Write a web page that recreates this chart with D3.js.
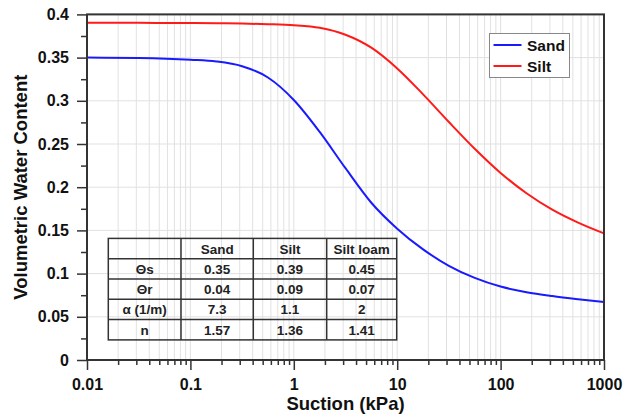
<!DOCTYPE html>
<html>
<head>
<meta charset="utf-8">
<script src="https://cdn.jsdelivr.net/npm/d3@7"></script>
<style>
  body { margin: 0; background: #fff; }
  svg { display: block; font-family: "Liberation Sans", Arial, sans-serif; font-weight: bold; }
</style>
</head>
<body>
<svg id="chart" width="634" height="418"></svg>
<script>
// values, every quarter decade of suction (kPa)
const suction = [0.01, 0.0316, 0.1, 0.178, 0.316, 0.562, 1, 1.78, 3.16, 5.62, 10, 17.8, 31.6, 56.2, 100, 178, 316, 562, 1000];
const sandTheta = [0.350, 0.3495, 0.3475, 0.3455, 0.340, 0.327, 0.301, 0.264, 0.222, 0.182, 0.152, 0.128, 0.109, 0.095, 0.085, 0.0785, 0.074, 0.0703, 0.067];
const siltTheta = [0.3904, 0.3902, 0.3900, 0.3898, 0.3894, 0.3887, 0.3875, 0.3845, 0.3765, 0.3615, 0.3375, 0.3075, 0.2755, 0.2445, 0.2165, 0.193, 0.174, 0.159, 0.1465];

const seriesNames = ["Sand", "Silt"];
const seriesColors = ["#1a1aff", "#ff1a1a"];

const xTickLabels = ["0.01", "0.1", "1", "10", "100", "1000"];
const yTickLabels = ["0", "0.05", "0.1", "0.15", "0.2", "0.25", "0.3", "0.35", "0.4"];

const tableHeader = ["", "Sand", "Silt", "Silt loam"];
const tableRowLabels = ["Θs", "Θr", "α (1/m)", "n"];
const tableValues = [
  ["0.35", "0.39", "0.45"],
  ["0.04", "0.09", "0.07"],
  ["7.3", "1.1", "2"],
  ["1.57", "1.36", "1.41"]
];

const margin = { top: 14.4, right: 30, bottom: 58, left: 87 };
const width = 634 - margin.left - margin.right;
const height = 418 - margin.top - margin.bottom;

const svg = d3.select('#chart');
const g = svg.append('g').attr('transform', `translate(${margin.left},${margin.top})`);

const x = d3.scaleLog().domain([0.01, 1000]).range([0, width]);
const y = d3.scaleLinear().domain([0, 0.4]).range([height, 0]);

const xMajor = xTickLabels.map(Number);
const xMinor = x.ticks().filter(t => !xMajor.some(m => Math.abs(m - t) < 1e-9));
const yMajor = yTickLabels.map(Number);
const yMinor = d3.range(0.025, 0.4, 0.05);

// grid
g.append('g')
  .selectAll('line')
  .data(x.ticks())
  .enter().append('line')
  .attr('x1', d => x(d)).attr('x2', d => x(d))
  .attr('y1', 0).attr('y2', height)
  .attr('stroke', '#e1e1e1')
  .attr('stroke-width', 1);

g.append('g')
  .selectAll('line')
  .data(yMajor)
  .enter().append('line')
  .attr('x1', 0).attr('x2', width)
  .attr('y1', d => y(d)).attr('y2', d => y(d))
  .attr('stroke', '#e1e1e1')
  .attr('stroke-width', 1);

// parameter table (behind the curves, no fill)
const tblX = 21.3, tblY = 224, colW = [72.7, 72.3, 73.4, 70], rowH = 20.3;
const colX = [0];
colW.forEach((w, i) => colX.push(colX[i] + w));
const tbl = g.append('g').attr('transform', `translate(${tblX},${tblY})`);
const tblRows = [tableHeader].concat(tableRowLabels.map((l, i) => [l].concat(tableValues[i])));

tbl.append('rect')
  .attr('width', colX[4]).attr('height', rowH * tblRows.length)
  .attr('fill', 'none').attr('stroke', '#333').attr('stroke-width', 1.5);
tbl.selectAll('.vline')
  .data(colX.slice(1, 4))
  .enter().append('line')
  .attr('x1', d => d).attr('x2', d => d)
  .attr('y1', 0).attr('y2', rowH * tblRows.length)
  .attr('stroke', '#333').attr('stroke-width', 1.5);
tbl.selectAll('.hline')
  .data(d3.range(1, tblRows.length))
  .enter().append('line')
  .attr('x1', 0).attr('x2', colX[4])
  .attr('y1', d => d * rowH).attr('y2', d => d * rowH)
  .attr('stroke', '#333').attr('stroke-width', 1.5);

tblRows.forEach((row, r) => {
  row.forEach((cell, c) => {
    tbl.append('text')
      .attr('x', colX[c] + colW[c] / 2)
      .attr('y', r * rowH + rowH / 2 + 5)
      .attr('text-anchor', 'middle')
      .style('font-size', '13.5px')
      .attr('fill', '#222')
      .text(cell);
  });
});

// curves
const line = d3.line()
  .x(d => x(d[0]))
  .y(d => y(d[1]))
  .curve(d3.curveMonotoneX);

const series = [
  d3.zip(suction, sandTheta),
  d3.zip(suction, siltTheta)
];

g.selectAll('.curve')
  .data(series)
  .enter().append('path')
  .attr('class', 'curve')
  .attr('d', line)
  .attr('fill', 'none')
  .attr('stroke', (d, i) => seriesColors[i])
  .attr('stroke-width', 2);

// axes
g.append('g')
  .attr('transform', `translate(0,${height})`)
  .call(d3.axisBottom(x).tickValues(xMajor).tickSize(10).tickPadding(9)
    .tickFormat((d, i) => xTickLabels[i]));
g.append('g')
  .attr('transform', `translate(0,${height})`)
  .call(d3.axisBottom(x).tickValues(xMinor).tickSize(5).tickFormat(''));

g.append('g')
  .call(d3.axisLeft(y).tickValues(yMajor).tickSize(10).tickPadding(8)
    .tickFormat((d, i) => yTickLabels[i]));
g.append('g')
  .call(d3.axisLeft(y).tickValues(yMinor).tickSize(6).tickFormat(''));

g.selectAll('.tick line').attr('stroke', '#333').attr('stroke-width', 1.5);
g.selectAll('.domain').remove();
g.selectAll('.tick text')
  .style('font-size', '16px')
  .style('font-family', '"Liberation Sans", Arial, sans-serif')
  .style('font-weight', 'bold')
  .attr('fill', '#111');

// frame
g.append('rect')
  .attr('width', width).attr('height', height)
  .attr('fill', 'none')
  .attr('stroke', '#333')
  .attr('stroke-width', 2);

// axis titles
svg.append('text')
  .attr('x', margin.left + width / 2)
  .attr('y', 410)
  .attr('text-anchor', 'middle')
  .style('font-size', '18.5px')
  .attr('fill', '#111')
  .text('Suction (kPa)');

svg.append('text')
  .attr('transform', `translate(27,${margin.top + height / 2}) rotate(-90)`)
  .attr('text-anchor', 'middle')
  .style('font-size', '18.5px')
  .attr('fill', '#111')
  .text('Volumetric Water Content');

// legend
const legend = svg.append('g').attr('transform', 'translate(489.5,33.5)');
legend.append('rect')
  .attr('width', 80).attr('height', 44)
  .attr('fill', '#fff')
  .attr('stroke', '#888')
  .attr('stroke-width', 1);

seriesNames.forEach((name, i) => {
  const row = legend.append('g').attr('transform', `translate(0,${11.5 + i * 21})`);
  row.append('line')
    .attr('x1', 4).attr('x2', 32)
    .attr('stroke', seriesColors[i])
    .attr('stroke-width', 2);
  row.append('text')
    .attr('x', 37.5)
    .attr('y', 6)
    .style('font-size', '15.5px')
    .attr('fill', '#111')
    .text(name);
});
</script>
</body>
</html>
